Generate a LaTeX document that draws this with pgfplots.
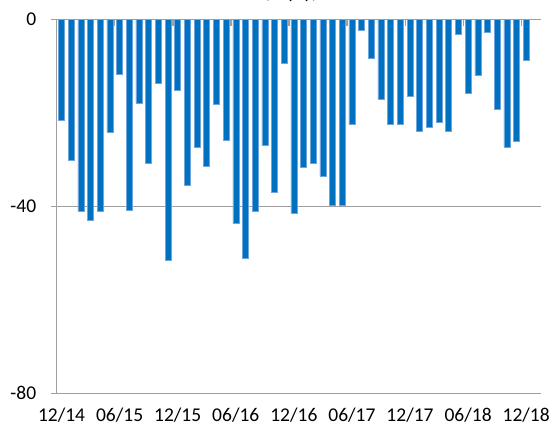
\documentclass[border=0pt]{standalone}
\usepackage{pgfplots}
\pgfplotsset{compat=1.18}
\usepackage{fontspec}
\setmainfont{Carlito}
\definecolor{barblue}{RGB}{0,112,192}
\definecolor{baredge}{RGB}{110,165,220}
\definecolor{gridgray}{RGB}{160,160,160}
\begin{document}
\fontsize{19}{23}\selectfont
\begin{tikzpicture}[x=1pt,y=1pt]
\path[use as bounding box] (-56.7,-36) rectangle (494.3,393);
\node[anchor=base] at (234.3,394.5) {(\% y/y)};
\begin{axis}[
  scale only axis,
  width=484pt, height=373.5pt,
  at={(0,0)}, anchor=south west,
  xmin=-0.5, xmax=49.5,
  ymin=-80, ymax=0,
  ytick={-80,-40,0},
  xtick={0,6,...,48},
  xticklabels={12/14,06/15,12/15,06/16,12/16,06/17,12/17,06/18,12/18},
  x tick style={draw=none},
  major tick length=6pt,
  y tick style={gridgray, line width=1pt},
  tick align=outside,
  ymajorgrids,
  grid style={gridgray, line width=1pt},
  axis line style={gridgray, line width=1pt},
  axis x line*=bottom,
  axis y line*=left,
  /pgf/number format/assume math mode=true,
  tick label style={font=\fontsize{19.5}{23}\selectfont},
  yticklabel style={xshift=-8pt},
  xticklabel style={yshift=-2pt},
  ybar, bar width=6pt,
  clip=false,
]
\addplot[fill=barblue, draw=baredge, line width=0.5pt] coordinates {
(0,-21.6) (1,-30.1) (2,-41.1) (3,-43.0) (4,-41.0) (5,-24.1) (6,-11.7) (7,-40.8)
(8,-17.9) (9,-30.8) (10,-13.6) (11,-51.6) (12,-15.2) (13,-35.4) (14,-27.3) (15,-31.4)
(16,-18.1) (17,-25.8) (18,-43.7) (19,-51.1) (20,-41.0) (21,-26.9) (22,-37.1) (23,-9.4)
(24,-41.5) (25,-31.6) (26,-30.8) (27,-33.5) (28,-39.7) (29,-39.7) (30,-22.5) (31,-2.3)
(32,-8.2) (33,-17.1) (34,-22.5) (35,-22.4) (36,-16.4) (37,-24.0) (38,-23.0) (39,-22.0)
(40,-24.0) (41,-3.1) (42,-15.7) (43,-12.0) (44,-2.7) (45,-19.2) (46,-27.3) (47,-26.1)
(48,-8.7)
};
\pgfplotsinvokeforeach{-0.5,5.5,11.5,17.5,23.5,29.5,35.5,41.5,47.5}{
  \draw[gridgray, line width=1.3pt] (axis cs:#1,0) -- (axis cs:#1,-1.3);
}
\end{axis}
\end{tikzpicture}
\end{document}
